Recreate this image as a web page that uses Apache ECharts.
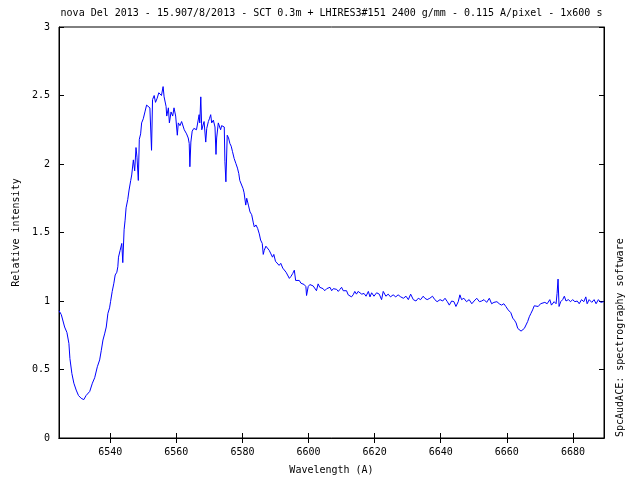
<!DOCTYPE html>
<html>
<head>
<meta charset="utf-8">
<script src="https://cdn.jsdelivr.net/npm/echarts@6/dist/echarts.min.js"></script>
<style>html,body{margin:0;padding:0;background:#fff}#c{width:640px;height:480px}</style>
</head>
<body>
<div id="c"></div>
<script>
const titleText = "nova Del 2013 - 15.907/8/2013 - SCT 0.3m + LHIRES3#151 2400 g/mm - 0.115 A/pixel - 1x600 s";
const xName = "Wavelength (A)";
const yName = "Relative intensity";
const sideText = "SpcAudACE: spectrography software";
const xTicks = [6540, 6560, 6580, 6600, 6620, 6640, 6660, 6680];
const yTicks = [0, 0.5, 1, 1.5, 2, 2.5, 3];
const xMin = 6524.5, xMax = 6689.4;

const wavelength = [
6524.5,6525.2,6526.2,6526.9,6527.5,6527.8,6528.4,6529.0,6529.7,6530.4,6531.2,6532.0,6532.7,6533.8,6534.6,6535.3,6536.1,6536.8,6537.3,6537.8,
6538.3,6538.8,6539.3,6539.8,6540.1,6540.6,6541.1,6541.5,6542.0,6542.3,6542.5,6543.0,6543.5,6543.8,6544.2,6544.5,6544.8,6545.3,6545.7,6546.2,
6546.5,6547.0,6547.4,6547.8,6548.1,6548.5,6548.8,6549.2,6549.5,6550.0,6550.5,6551.0,6551.5,6552.0,6552.5,6552.8,6553.3,6553.7,6554.2,6554.7,
6555.2,6555.5,6556.0,6556.3,6556.9,6557.1,6557.6,6557.9,6558.4,6558.9,6559.3,6559.8,6560.3,6560.6,6561.1,6561.6,6562.1,6562.4,6562.9,6563.1,
6563.6,6563.9,6564.1,6564.4,6564.8,6565.3,6565.8,6566.1,6566.6,6566.9,6567.1,6567.4,6567.7,6568.1,6568.4,6568.9,6569.2,6569.7,6570.0,6570.4,
6570.7,6571.2,6571.5,6571.7,6572.0,6572.2,6572.7,6573.2,6573.4,6573.7,6574.2,6574.5,6574.7,6575.0,6575.4,6575.8,6576.2,6576.6,6577.0,6577.5,
6578.0,6578.5,6578.9,6579.2,6579.8,6580.2,6580.5,6581.0,6581.3,6581.8,6582.3,6582.8,6583.3,6583.6,6584.1,6584.6,6585.1,6585.5,6586.0,6586.3,
6586.6,6587.1,6587.6,6588.1,6588.5,6589.1,6589.5,6590.0,6590.5,6591.1,6591.6,6592.2,6592.7,6593.2,6593.7,6594.2,6594.7,6595.2,6595.7,6596.1,
6596.6,6597.2,6597.7,6598.2,6598.7,6599.2,6599.4,6599.9,6600.4,6600.9,6601.4,6601.9,6602.4,6602.9,6603.4,6603.9,6604.4,6604.9,6605.5,6606.0,
6606.5,6607.0,6607.5,6608.0,6608.5,6609.0,6609.5,6610.0,6610.5,6611.0,6611.5,6612.0,6612.5,6613.0,6613.5,6614.0,6614.5,6615.0,6616.1,6616.8,
6617.4,6618.1,6618.6,6619.1,6619.8,6620.6,6621.4,6622.1,6622.6,6623.4,6624.1,6624.8,6625.6,6626.4,6627.1,6627.9,6628.7,6629.5,6630.2,6630.9,
6631.7,6632.5,6633.2,6633.9,6634.7,6635.2,6635.9,6636.7,6637.5,6638.2,6638.9,6639.8,6640.6,6641.3,6642.0,6642.6,6643.3,6644.0,6644.6,6645.3,
6645.8,6646.3,6647.0,6647.8,6648.6,6649.4,6650.1,6650.9,6651.7,6652.4,6653.1,6653.9,6654.7,6655.4,6656.1,6657.0,6657.7,6658.4,6659.1,6659.7,
6660.4,6661.2,6661.8,6662.3,6662.8,6663.3,6663.8,6664.3,6664.8,6665.3,6665.8,6666.3,6666.8,6667.3,6667.8,6668.3,6668.8,6669.5,6670.2,6670.8,
6671.5,6672.2,6673.0,6673.5,6674.3,6674.9,6675.2,6675.5,6675.8,6676.3,6676.9,6677.4,6677.9,6678.6,6679.3,6679.9,6680.6,6681.3,6681.9,6682.6,
6683.3,6683.9,6684.3,6684.9,6685.7,6686.4,6687.0,6687.7,6688.4,6689.0,6689.3
];
const intensity = [
0.93,0.90,0.81,0.77,0.69,0.58,0.47,0.40,0.35,0.31,0.29,0.28,0.31,0.34,0.40,0.44,0.52,0.57,0.64,0.715,
0.76,0.81,0.91,0.95,0.995,1.07,1.13,1.19,1.21,1.25,1.32,1.37,1.42,1.28,1.52,1.59,1.68,1.74,1.81,1.88,
1.92,2.03,1.95,2.12,2.05,1.88,2.18,2.22,2.30,2.33,2.38,2.43,2.42,2.41,2.10,2.47,2.50,2.45,2.48,2.52,
2.53,2.50,2.565,2.49,2.42,2.35,2.41,2.30,2.38,2.35,2.41,2.35,2.21,2.30,2.28,2.31,2.32,2.25,2.26,2.22,
2.19,2.15,1.98,2.16,2.24,2.26,2.27,2.25,2.26,2.36,2.30,2.49,2.25,2.24,2.31,2.16,2.26,2.31,2.33,2.36,
2.30,2.32,2.33,2.27,2.07,2.19,2.30,2.31,2.25,2.28,2.28,2.27,2.02,1.87,2.21,2.19,2.15,2.13,2.09,2.04,
2.005,1.97,1.93,1.88,1.87,1.82,1.79,1.70,1.75,1.70,1.65,1.63,1.57,1.54,1.555,1.53,1.49,1.445,1.42,1.34,
1.37,1.40,1.41,1.37,1.35,1.32,1.34,1.29,1.30,1.26,1.275,1.24,1.25,1.21,1.22,1.165,1.18,1.20,1.225,1.15,
1.14,1.15,1.13,1.135,1.12,1.105,1.04,1.105,1.12,1.13,1.11,1.10,1.075,1.125,1.10,1.11,1.09,1.075,1.09,1.08,
1.10,1.075,1.09,1.08,1.085,1.07,1.085,1.10,1.075,1.08,1.075,1.045,1.055,1.03,1.045,1.07,1.05,1.07,1.05,1.055,
1.035,1.07,1.03,1.06,1.035,1.06,1.05,1.01,1.07,1.035,1.05,1.03,1.045,1.03,1.045,1.03,1.02,1.035,1.01,1.05,
1.01,1.00,1.02,1.01,1.035,1.02,1.01,1.02,1.035,1.01,0.995,1.01,1.00,1.02,0.995,0.97,1.00,0.995,0.96,0.995,
1.045,1.01,1.02,0.995,1.01,0.98,1.00,1.02,0.995,1.00,1.01,0.99,1.02,0.98,0.99,0.995,0.98,0.97,0.98,0.96,
0.935,0.915,0.875,0.86,0.84,0.80,0.79,0.78,0.775,0.80,0.825,0.85,0.885,0.91,0.935,0.965,0.97,0.96,0.98,0.97,
0.99,0.98,1.01,0.97,0.995,0.98,1.055,1.16,0.96,0.995,1.01,1.035,1.00,1.01,0.995,1.01,0.995,1.00,0.98,1.01,
0.995,1.03,0.98,1.01,0.99,1.01,0.98,1.01,0.99,1.00,0.995
];

const FONT = "DejaVu Sans Mono";
const chart = echarts.init(document.getElementById('c'), null, {renderer: 'canvas'});
const pts = wavelength.map((w, i) => [w, intensity[i]]);
const tickStyle = {color: '#000', width: 1};
const plain = v => String(v);

chart.setOption({
  animation: false,
  backgroundColor: '#fff',
  grid: {left: 59, right: 36, top: 27, bottom: 42, show: true, borderColor: '#000', borderWidth: 1, backgroundColor: 'transparent'},
  xAxis: [
    {type: 'value', position: 'bottom', min: xMin, max: xMax,
     name: xName, nameLocation: 'middle', nameGap: 27,
     nameTextStyle: {fontFamily: FONT, fontSize: 10, color: '#000'},
     axisLine: {show: true, lineStyle: {color: '#000'}},
     axisTick: {show: true, inside: true, length: 5, lineStyle: tickStyle, customValues: xTicks},
     axisLabel: {show: true, margin: 9, fontFamily: FONT, fontSize: 10, color: '#000', customValues: xTicks, formatter: plain},
     splitLine: {show: false}},
    {type: 'value', position: 'top', min: xMin, max: xMax,
     axisLine: {show: true, lineStyle: {color: '#000'}},
     axisTick: {show: true, inside: true, length: 5, lineStyle: tickStyle, customValues: xTicks},
     axisLabel: {show: false}, splitLine: {show: false}}
  ],
  yAxis: [
    {type: 'value', position: 'left', min: 0, max: 3, interval: 0.5,
     name: yName, nameLocation: 'middle', nameGap: 37,
     nameTextStyle: {fontFamily: FONT, fontSize: 10, color: '#000'},
     axisLine: {show: true, lineStyle: {color: '#000'}},
     axisTick: {show: true, inside: true, length: 5, lineStyle: tickStyle, customValues: yTicks},
     axisLabel: {show: true, margin: 9, fontFamily: FONT, fontSize: 10, color: '#000', customValues: yTicks, formatter: plain},
     splitLine: {show: false}},
    {type: 'value', position: 'right', min: 0, max: 3, interval: 0.5,
     axisLine: {show: true, lineStyle: {color: '#000'}},
     axisTick: {show: true, inside: true, length: 5, lineStyle: tickStyle, customValues: yTicks},
     axisLabel: {show: false}, splitLine: {show: false}}
  ],
  graphic: [
    {type: 'text', x: 331.5, y: 13, style: {text: titleText, font: '10px "DejaVu Sans Mono"', fill: '#000', textAlign: 'center', textVerticalAlign: 'middle'}},
    {type: 'text', x: 620, y: 437, rotation: Math.PI / 2, style: {text: sideText, font: '10px "DejaVu Sans Mono"', fill: '#000', textAlign: 'left', textVerticalAlign: 'middle'}}
  ],
  series: [{
    type: 'line', xAxisIndex: 0, yAxisIndex: 0, data: pts,
    showSymbol: false, symbol: 'none',
    lineStyle: {color: '#0000ff', width: 1},
    silent: true
  }]
});
</script>
</body>
</html>
